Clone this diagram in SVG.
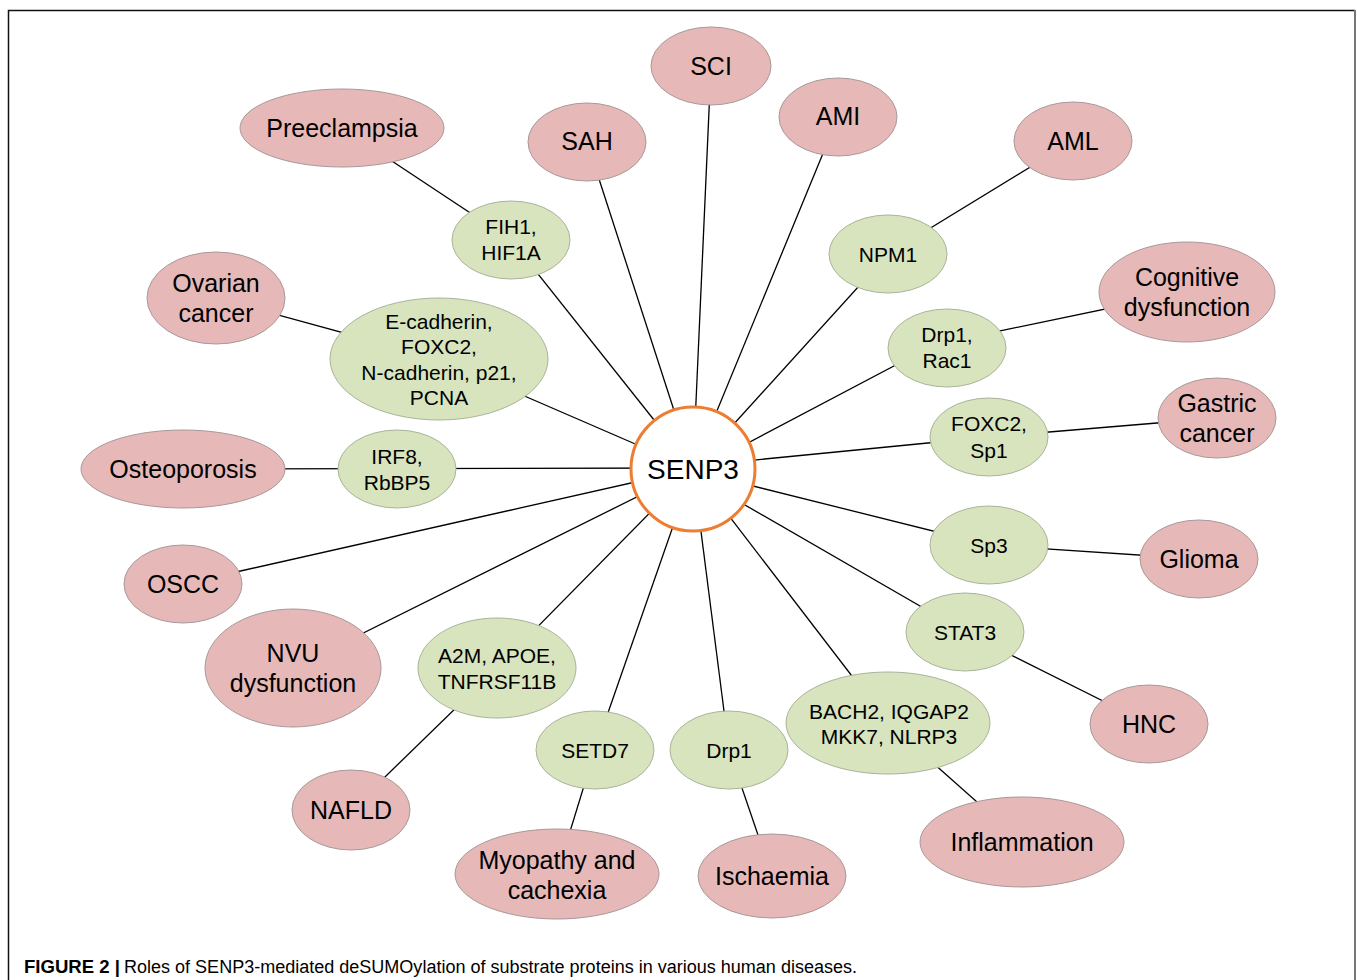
<svg xmlns="http://www.w3.org/2000/svg" width="1357" height="980" viewBox="0 0 1357 980">
<style>
text{font-family:"Liberation Sans",Arial,sans-serif;fill:#000;text-anchor:middle;dominant-baseline:central}
.p{fill:#e6b9b8;stroke:#a89898;stroke-width:1}
.g{fill:#d7e4bd;stroke:#a9b39a;stroke-width:1}
.pt{font-size:25px}
.gt{font-size:21px}
#connectors line{stroke:#000;stroke-width:1.3}
.cap{text-anchor:start;dominant-baseline:auto;font-size:18px}
</style>
<rect width="1357" height="980" fill="#fff"/>
<path d="M8.5 980 V10.5 H1355" fill="none" stroke="#111" stroke-width="1.5"/>
<line x1="1355" y1="10" x2="1355" y2="980" stroke="#777" stroke-width="2"/>
<g id="connectors">
<line x1="711" y1="66" x2="693" y2="469"/>
<line x1="838" y1="117" x2="693" y2="469"/>
<line x1="587" y1="142" x2="693" y2="469"/>
<line x1="511" y1="240" x2="693" y2="469"/>
<line x1="342" y1="128" x2="511" y2="240"/>
<line x1="888" y1="254" x2="693" y2="469"/>
<line x1="888" y1="254" x2="1073" y2="141"/>
<line x1="216" y1="298" x2="439" y2="359"/>
<line x1="439" y1="359" x2="693" y2="469"/>
<line x1="947" y1="338" x2="693" y2="472"/>
<line x1="947" y1="342" x2="1187" y2="292"/>
<line x1="989" y1="437" x2="693" y2="466"/>
<line x1="989" y1="437" x2="1217" y2="418"/>
<line x1="183" y1="469" x2="693" y2="468"/>
<line x1="183" y1="584" x2="693" y2="469"/>
<line x1="293" y1="668" x2="693" y2="469"/>
<line x1="497" y1="668" x2="693" y2="469"/>
<line x1="497" y1="668" x2="351" y2="810"/>
<line x1="595" y1="750" x2="693" y2="469"/>
<line x1="595" y1="750" x2="557" y2="874"/>
<line x1="729" y1="750" x2="693" y2="469"/>
<line x1="729" y1="750" x2="772" y2="876"/>
<line x1="888" y1="723" x2="693" y2="469"/>
<line x1="888" y1="723" x2="1022" y2="842"/>
<line x1="965" y1="632" x2="693" y2="475"/>
<line x1="965" y1="632" x2="1149" y2="724"/>
<line x1="989" y1="545" x2="693" y2="471"/>
<line x1="989" y1="545" x2="1199" y2="559"/>
</g>
<g id="senp3"><circle cx="693" cy="469" r="62" fill="#fff" stroke="#ed7d31" stroke-width="3"/><text x="693" y="469" font-size="28">SENP3</text></g>
<g id="sci"><ellipse class="p" cx="711" cy="66" rx="60" ry="39"/><text class="pt" x="711" y="66">SCI</text></g>
<g id="ami"><ellipse class="p" cx="838" cy="117" rx="59" ry="39"/><text class="pt" x="838" y="116">AMI</text></g>
<g id="sah"><ellipse class="p" cx="587" cy="142" rx="59" ry="39"/><text class="pt" x="587" y="141">SAH</text></g>
<g id="aml"><ellipse class="p" cx="1073" cy="141" rx="59" ry="39"/><text class="pt" x="1073" y="141">AML</text></g>
<g id="preeclampsia"><ellipse class="p" cx="342" cy="128" rx="102" ry="39"/><text class="pt" x="342" y="128">Preeclampsia</text></g>
<g id="ovarian"><ellipse class="p" cx="216" cy="298" rx="69" ry="46"/><text class="pt" x="216" y="283">Ovarian</text><text class="pt" x="216" y="313">cancer</text></g>
<g id="cognitive"><ellipse class="p" cx="1187" cy="292" rx="88" ry="50"/><text class="pt" x="1187" y="277">Cognitive</text><text class="pt" x="1187" y="307">dysfunction</text></g>
<g id="gastric"><ellipse class="p" cx="1217" cy="418" rx="59" ry="40"/><text class="pt" x="1217" y="403">Gastric</text><text class="pt" x="1217" y="433">cancer</text></g>
<g id="osteoporosis"><ellipse class="p" cx="183" cy="469" rx="102" ry="39"/><text class="pt" x="183" y="469">Osteoporosis</text></g>
<g id="oscc"><ellipse class="p" cx="183" cy="584" rx="59" ry="39"/><text class="pt" x="183" y="584">OSCC</text></g>
<g id="glioma"><ellipse class="p" cx="1199" cy="559" rx="59" ry="39"/><text class="pt" x="1199" y="559">Glioma</text></g>
<g id="nvu"><ellipse class="p" cx="293" cy="668" rx="88" ry="59"/><text class="pt" x="293" y="653">NVU</text><text class="pt" x="293" y="683">dysfunction</text></g>
<g id="hnc"><ellipse class="p" cx="1149" cy="724" rx="59" ry="39"/><text class="pt" x="1149" y="724">HNC</text></g>
<g id="nafld"><ellipse class="p" cx="351" cy="810" rx="59" ry="40"/><text class="pt" x="351" y="810">NAFLD</text></g>
<g id="myopathy"><ellipse class="p" cx="557" cy="874" rx="102" ry="45"/><text class="pt" x="557" y="860">Myopathy and</text><text class="pt" x="557" y="890">cachexia</text></g>
<g id="ischaemia"><ellipse class="p" cx="772" cy="876" rx="74" ry="42"/><text class="pt" x="772" y="876">Ischaemia</text></g>
<g id="inflammation"><ellipse class="p" cx="1022" cy="842" rx="102" ry="45"/><text class="pt" x="1022" y="842">Inflammation</text></g>
<g id="fih1"><ellipse class="g" cx="511" cy="240" rx="59" ry="39"/><text class="gt" x="511" y="226">FIH1,</text><text class="gt" x="511" y="252">HIF1A</text></g>
<g id="npm1"><ellipse class="g" cx="888" cy="254" rx="59" ry="39"/><text class="gt" x="888" y="254">NPM1</text></g>
<g id="ecad"><ellipse class="g" cx="439" cy="359" rx="109" ry="61"/><text class="gt" x="439" y="321">E-cadherin,</text><text class="gt" x="439" y="346">FOXC2,</text><text class="gt" x="439" y="372">N-cadherin, p21,</text><text class="gt" x="439" y="397">PCNA</text></g>
<g id="drp1rac1"><ellipse class="g" cx="947" cy="348" rx="59" ry="39"/><text class="gt" x="947" y="334">Drp1,</text><text class="gt" x="947" y="360">Rac1</text></g>
<g id="foxc2sp1"><ellipse class="g" cx="989" cy="437" rx="59" ry="39"/><text class="gt" x="989" y="423">FOXC2,</text><text class="gt" x="989" y="450">Sp1</text></g>
<g id="irf8"><ellipse class="g" cx="397" cy="469" rx="59" ry="39"/><text class="gt" x="397" y="456">IRF8,</text><text class="gt" x="397" y="482">RbBP5</text></g>
<g id="sp3"><ellipse class="g" cx="989" cy="545" rx="59" ry="39"/><text class="gt" x="989" y="545">Sp3</text></g>
<g id="stat3"><ellipse class="g" cx="965" cy="632" rx="59" ry="39"/><text class="gt" x="965" y="632">STAT3</text></g>
<g id="a2m"><ellipse class="g" cx="497" cy="668" rx="79" ry="50"/><text class="gt" x="497" y="655">A2M, APOE,</text><text class="gt" x="497" y="681">TNFRSF11B</text></g>
<g id="bach2"><ellipse class="g" cx="888" cy="723" rx="102" ry="51"/><text class="gt" x="889" y="711">BACH2, IQGAP2</text><text class="gt" x="889" y="736">MKK7, NLRP3</text></g>
<g id="setd7"><ellipse class="g" cx="595" cy="750" rx="59" ry="39"/><text class="gt" x="595" y="750">SETD7</text></g>
<g id="drp1"><ellipse class="g" cx="729" cy="750" rx="59" ry="39"/><text class="gt" x="729" y="750">Drp1</text></g>
<text class="cap" x="24" y="973" font-weight="bold" fill="#222" textLength="96" lengthAdjust="spacingAndGlyphs">FIGURE 2 |</text>
<text class="cap" x="124" y="973" fill="#333" textLength="733" lengthAdjust="spacingAndGlyphs">Roles of SENP3-mediated deSUMOylation of substrate proteins in various human diseases.</text>
</svg>
